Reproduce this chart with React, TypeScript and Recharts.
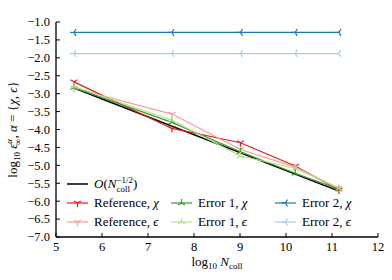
import React from 'react';
import { LineChart, Line, XAxis, YAxis, Legend, Label } from 'recharts';

// log10 N_coll sample points
const logN = [5.39, 7.52, 9.01, 10.2, 11.15];
// log10 errors
const refChi = [-2.67, -3.97, -4.37, -5.02, -5.69];
const refEps = [-2.85, -3.57, -4.56, -5.05, -5.64];
const err1Chi = [-2.83, -3.8, -4.62, -5.22, -5.67];
const err1Eps = [-2.8, -3.74, -4.74, -5.08, -5.64];
const err2Chi = [-1.29, -1.29, -1.29, -1.29, -1.29];
const err2Eps = [-1.88, -1.88, -1.88, -1.88, -1.88];
// reference slope O(N^-1/2)
const slopeX = [5.39, 11.15];
const slopeY = [-2.84, -5.72];

const xTicks = [5, 6, 7, 8, 9, 10, 11, 12];
const yTicks = [-7, -6.5, -6, -5.5, -5, -4.5, -4, -3.5, -3, -2.5, -2, -1.5, -1];

const data = logN.map((x, i) => ({
  x,
  refChi: refChi[i],
  refEps: refEps[i],
  err1Chi: err1Chi[i],
  err1Eps: err1Eps[i],
  err2Chi: err2Chi[i],
  err2Eps: err2Eps[i],
}));
const slopeData = slopeX.map((x, i) => ({ x, slope: slopeY[i] }));

const FONT = '"Liberation Serif", "DejaVu Serif", serif';

type Dir = 'down' | 'up' | 'left';
const ARMS: Record<Dir, [number, number][]> = {
  down: [[0, 1], [-0.866, -0.5], [0.866, -0.5]],
  up: [[0, -1], [-0.866, 0.5], [0.866, 0.5]],
  left: [[-1, 0], [0.5, -0.866], [0.5, 0.866]],
};

function Tri({ cx, cy, color, dir, r = 4 }: { cx: number; cy: number; color: string; dir: Dir; r?: number }) {
  return (
    <g>
      {ARMS[dir].map(([dx, dy], i) => (
        <line key={i} x1={cx} y1={cy} x2={cx + dx * r} y2={cy + dy * r} stroke={color} strokeWidth={1.2} />
      ))}
    </g>
  );
}

const series = [
  { key: 'refChi', color: '#e31a1c', dir: 'down' as Dir, name: 'Reference, ', sym: 'χ' },
  { key: 'refEps', color: '#fb9a99', dir: 'down' as Dir, name: 'Reference, ', sym: 'ϵ' },
  { key: 'err1Chi', color: '#33a02c', dir: 'up' as Dir, name: 'Error 1, ', sym: 'χ' },
  { key: 'err1Eps', color: '#b2df8a', dir: 'up' as Dir, name: 'Error 1, ', sym: 'ϵ' },
  { key: 'err2Chi', color: '#1f78b4', dir: 'left' as Dir, name: 'Error 2, ', sym: 'χ' },
  { key: 'err2Eps', color: '#a6cee3', dir: 'left' as Dir, name: 'Error 2, ', sym: 'ϵ' },
];

const fmtY = (v: number) => (v < 0 ? '\u2212' : '') + Math.abs(v).toFixed(1);

function Handle({ color, dir }: { color: string; dir?: Dir }) {
  return (
    <svg width={21} height={10} style={{ display: 'block' }}>
      <line x1={0} y1={5} x2={21} y2={5} stroke={color} strokeWidth={dir ? 1.2 : 1.5} />
      {dir && <Tri cx={10.5} cy={5} color={color} dir={dir} />}
    </svg>
  );
}

function LegendItem({ left, top, color, dir, children }: any) {
  return (
    <div style={{ position: 'absolute', left, top: top - 9, height: 18, display: 'flex', alignItems: 'center', whiteSpace: 'nowrap' }}>
      <Handle color={color} dir={dir} />
      <span style={{ marginLeft: 6, fontFamily: FONT, fontSize: 13, color: '#000', lineHeight: '18px' }}>{children}</span>
    </div>
  );
}

const renderLegend = () => {
  const cols = [67, 171, 275];
  const rows = [184, 203, 222];
  const pos = [
    [0, 1], [0, 2], [1, 1], [1, 2], [2, 1], [2, 2],
  ];
  return (
    <div style={{ position: 'relative', width: 392, height: 280 }}>
      <LegendItem left={cols[0]} top={rows[0]} color="#000">
        <span style={{ fontStyle: 'italic' }}>O</span>(<span style={{ fontStyle: 'italic' }}>N</span>
        <span style={{ display: 'inline-flex', flexDirection: 'column', verticalAlign: 'middle', fontSize: 9, lineHeight: '9px' }}>
          <span>−1/2</span>
          <span>coll</span>
        </span>)
      </LegendItem>
      {series.map((s, i) => (
        <LegendItem key={s.key} left={cols[pos[i][0]]} top={rows[pos[i][1]]} color={s.color} dir={s.dir}>
          {s.name}
          <span style={{ fontStyle: 'italic' }}>{s.sym}</span>
        </LegendItem>
      ))}
    </div>
  );
};

const YLabel = (props: any) => {
  const vb = props.viewBox || {};
  const cy = vb.y + vb.height / 2;
  return (
    <text transform={`translate(17, ${cy}) rotate(-90)`} textAnchor="middle" fontFamily={FONT} fontSize={13} fill="#000">
      <tspan>log</tspan>
      <tspan dy={3} fontSize={9}>10</tspan>
      <tspan dy={-3}> </tspan>
      <tspan fontStyle="italic">ε</tspan>
      <tspan dy={-5} fontSize={9} fontStyle="italic">α</tspan>
      <tspan dx={-6} dy={9} fontSize={9}>∞</tspan>
      <tspan dy={-4}>, </tspan>
      <tspan fontStyle="italic">α</tspan>
      <tspan> = {'{'}</tspan>
      <tspan fontStyle="italic">χ</tspan>
      <tspan>, </tspan>
      <tspan fontStyle="italic">ϵ</tspan>
      <tspan>{'}'}</tspan>
    </text>
  );
};

const XLabel = (props: any) => {
  const vb = props.viewBox || {};
  const cx = vb.x + vb.width / 2;
  return (
    <text x={cx} y={266} textAnchor="middle" fontFamily={FONT} fontSize={13} fill="#000">
      <tspan>log</tspan>
      <tspan dy={3} fontSize={9}>10</tspan>
      <tspan dy={-3}> </tspan>
      <tspan fontStyle="italic">N</tspan>
      <tspan dy={3} fontSize={9}>coll</tspan>
    </text>
  );
};

const XTick = (p: any) => (
  <text x={p.x} y={p.y} dy="0.71em" textAnchor="middle" fontFamily={FONT} fontSize={12.5} fill="#000">
    {String(p.payload.value)}
  </text>
);
const YTick = (p: any) => (
  <text x={p.x} y={p.y} dy="0.35em" textAnchor="end" fontFamily={FONT} fontSize={12.5} fill="#000">
    {fmtY(p.payload.value)}
  </text>
);

const axisLine = { stroke: '#000', strokeWidth: 1.3 };
const tickLine = { stroke: '#000', strokeWidth: 1 };

export default function App() {
  return (
    <div style={{ position: 'absolute', left: 0, top: 0, background: '#fff', fontFamily: FONT }}>
      <LineChart
        width={392}
        height={280}
        data={data}
        margin={{ top: 22, right: 14, bottom: 0, left: 0 }}
      >
        <XAxis
          xAxisId="b"
          type="number"
          dataKey="x"
          domain={[5, 12]}
          ticks={xTicks}
          allowDataOverflow
          height={43}
          tickSize={-4}
          tickMargin={9}
          axisLine={axisLine}
          tickLine={tickLine}
          tick={XTick}
        >
          <Label content={XLabel} />
        </XAxis>
        <XAxis
          xAxisId="t"
          orientation="top"
          type="number"
          dataKey="x"
          domain={[5, 12]}
          ticks={xTicks}
          allowDataOverflow
          height={0}
          tickSize={-4}
          tickFormatter={() => ''}
          axisLine={axisLine}
          tickLine={tickLine}
        />
        <YAxis
          yAxisId="l"
          type="number"
          domain={[-7, -1]}
          ticks={yTicks}
          allowDataOverflow
          width={56}
          tickSize={-4}
          tickMargin={10}
          axisLine={axisLine}
          tickLine={tickLine}
          tick={YTick}
          interval={0}
        >
          <Label content={YLabel} />
        </YAxis>
        <YAxis
          yAxisId="r"
          orientation="right"
          type="number"
          domain={[-7, -1]}
          ticks={yTicks}
          allowDataOverflow
          width={0}
          tickSize={-4}
          tickFormatter={() => ''}
          axisLine={axisLine}
          tickLine={tickLine}
          interval={0}
        />
        <Line
          xAxisId="b"
          yAxisId="l"
          data={slopeData}
          dataKey="slope"
          stroke="#000"
          strokeWidth={1.5}
          dot={false}
          isAnimationActive={false}
        />
        {series.map((s) => (
          <Line
            key={s.key}
            xAxisId="b"
            yAxisId="l"
            dataKey={s.key}
            stroke={s.color}
            strokeWidth={1.2}
            isAnimationActive={false}
            dot={(p: any) => <Tri key={`${s.key}-${p.index}`} cx={p.cx} cy={p.cy} color={s.color} dir={s.dir} />}
            activeDot={false}
          />
        ))}
        <Legend
          content={renderLegend}
          layout="horizontal"
          verticalAlign="middle"
          align="center"
          wrapperStyle={{ left: 0, top: 0, width: 392, height: 280, pointerEvents: 'none' }}
        />
      </LineChart>
    </div>
  );
}
